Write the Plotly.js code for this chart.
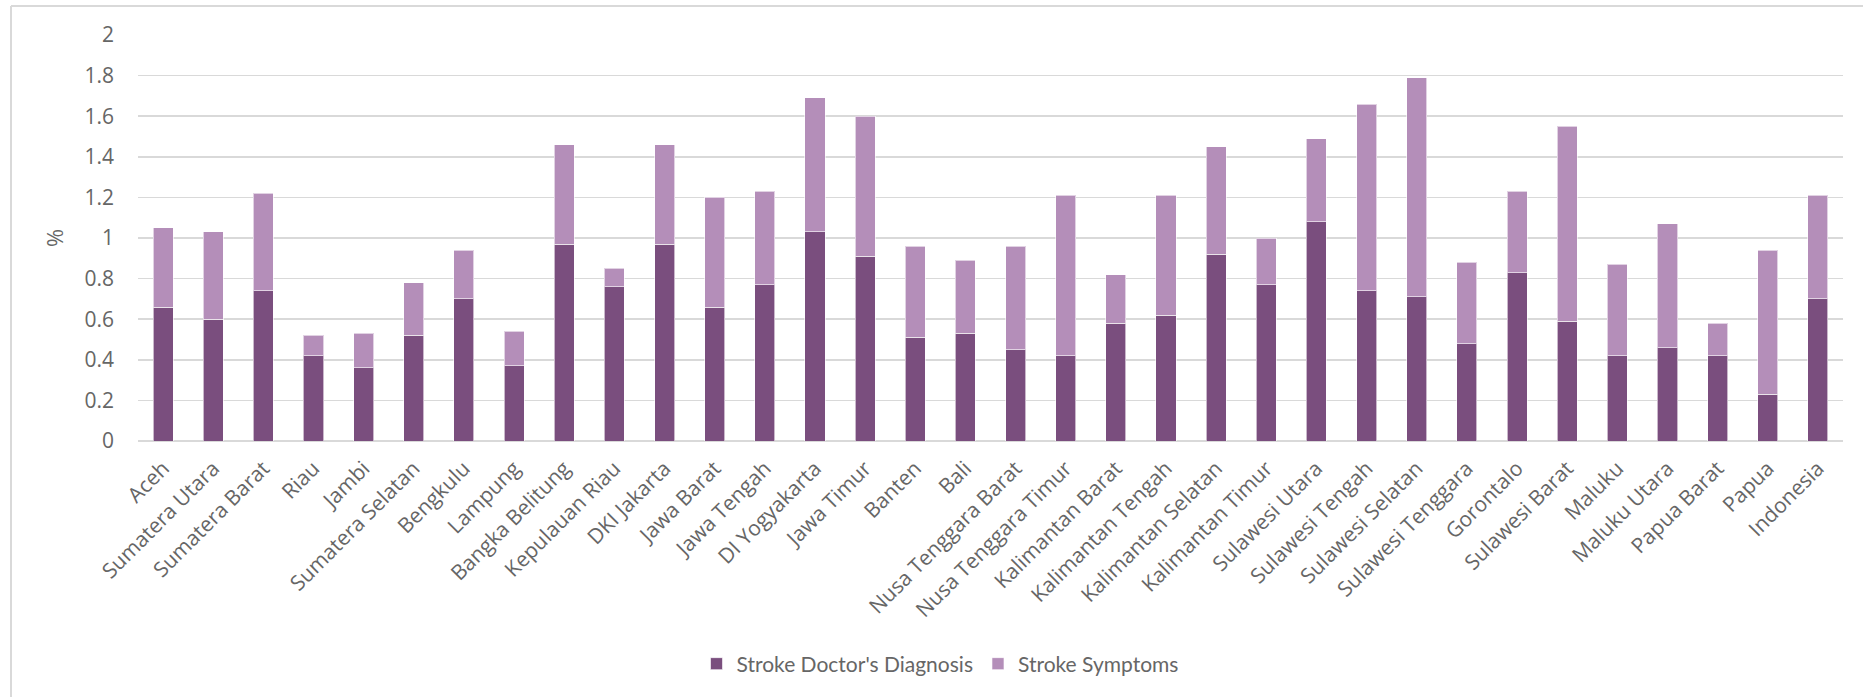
<!DOCTYPE html>
<html>
<head>
<meta charset="utf-8">
<script src="https://cdn.plot.ly/plotly-3.0.1.min.js"></script>
<style>
  html, body { margin: 0; padding: 0; background: #ffffff; }
  #chart { width: 1863px; height: 697px; }
</style>
</head>
<body>
<div id="chart"></div>
<script>
const provinces = [
  "Aceh", "Sumatera Utara", "Sumatera Barat", "Riau", "Jambi", "Sumatera Selatan",
  "Bengkulu", "Lampung", "Bangka Belitung", "Kepulauan Riau", "DKI Jakarta",
  "Jawa Barat", "Jawa Tengah", "DI Yogyakarta", "Jawa Timur", "Banten", "Bali",
  "Nusa Tenggara Barat", "Nusa Tenggara Timur", "Kalimantan Barat", "Kalimantan Tengah",
  "Kalimantan Selatan", "Kalimantan Timur", "Sulawesi Utara", "Sulawesi Tengah",
  "Sulawesi Selatan", "Sulawesi Tenggara", "Gorontalo", "Sulawesi Barat", "Maluku",
  "Maluku Utara", "Papua Barat", "Papua", "Indonesia"
];

// Stroke diagnosed by doctor (%)
const doctorDiagnosis = [
  0.66, 0.60, 0.74, 0.42, 0.36, 0.52,
  0.70, 0.37, 0.97, 0.76, 0.97,
  0.66, 0.77, 1.03, 0.91, 0.51, 0.53,
  0.45, 0.42, 0.58, 0.62,
  0.92, 0.77, 1.08, 0.74,
  0.71, 0.48, 0.83, 0.59, 0.42,
  0.46, 0.42, 0.23, 0.70
];

// Additional stroke by symptoms (%) - stacked on top of diagnosis
const strokeSymptoms = [
  0.39, 0.43, 0.48, 0.10, 0.17, 0.26,
  0.24, 0.17, 0.49, 0.09, 0.49,
  0.54, 0.46, 0.66, 0.69, 0.45, 0.36,
  0.51, 0.79, 0.24, 0.59,
  0.53, 0.23, 0.41, 0.92,
  1.08, 0.40, 0.40, 0.96, 0.45,
  0.61, 0.16, 0.71, 0.51
];

const yTickValues = [0, 0.2, 0.4, 0.6, 0.8, 1, 1.2, 1.4, 1.6, 1.8, 2];
const yTickText = ["0", "0.2", "0.4", "0.6", "0.8", "1", "1.2", "1.4", "1.6", "1.8", "2"];

const darkPurple = "#7A4E7E";
const lightPurple = "#B48EB9";
const textGray = "#666666";
const gridGray = "#D9D9D9";

const traces = [
  {
    type: "bar",
    name: "Stroke Doctor's Diagnosis",
    x: provinces,
    y: doctorDiagnosis,
    marker: { color: darkPurple, line: { color: "rgba(255,255,255,0.6)", width: 1 } },
    hoverinfo: "x+y+name"
  },
  {
    type: "bar",
    name: "Stroke Symptoms",
    x: provinces,
    y: strokeSymptoms,
    marker: { color: lightPurple, line: { color: "rgba(255,255,255,0.6)", width: 1 } },
    hoverinfo: "x+y+name"
  }
];

// plot area in pixels
const M = { l: 138, r: 20, t: 35, b: 256 };
const W = 1863, H = 697;
const pw = W - M.l - M.r, ph = H - M.t - M.b;
const px = v => (v - M.l) / pw;
const py = v => (H - M.b - v) / ph;

const tickFont = { family: "Open Sans", size: 21, color: textGray };

const layout = {
  width: W,
  height: H,
  margin: M,
  paper_bgcolor: "#ffffff",
  plot_bgcolor: "#ffffff",
  barmode: "stack",
  bargap: 0.6,
  font: { family: "Open Sans", size: 21, color: textGray },
  xaxis: {
    type: "category",
    tickangle: -45,
    tickfont: tickFont,
    showgrid: false,
    showline: false,
    zeroline: false,
    ticks: "",
    ticklabelstandoff: 10,
    fixedrange: true
  },
  yaxis: {
    range: [0, 2],
    tickvals: yTickValues,
    ticktext: yTickText,
    tickfont: tickFont,
    showgrid: true,
    gridcolor: gridGray,
    gridwidth: 1.5,
    zeroline: true,
    zerolinecolor: gridGray,
    zerolinewidth: 1.5,
    showline: false,
    ticks: "",
    ticklabelstandoff: 23,
    title: { text: "%", font: { family: "Open Sans", size: 22, color: textGray }, standoff: 14 },
    fixedrange: true
  },
  legend: {
    orientation: "h",
    x: px(940),
    xanchor: "center",
    y: py(664),
    yanchor: "middle",
    font: { family: "Lato", size: 21, color: textGray },
    itemwidth: 30,
    traceorder: "normal"
  },
  shapes: [
    { type: "line", xref: "paper", yref: "paper", x0: px(11), x1: px(1870), y0: py(6), y1: py(6), line: { color: gridGray, width: 2 } },
    { type: "line", xref: "paper", yref: "paper", x0: px(11), x1: px(11), y0: py(6), y1: py(705), line: { color: gridGray, width: 2 } }
  ],
  showlegend: true
};

Plotly.newPlot("chart", traces, layout, { displayModeBar: false, staticPlot: true });
</script>
</body>
</html>
